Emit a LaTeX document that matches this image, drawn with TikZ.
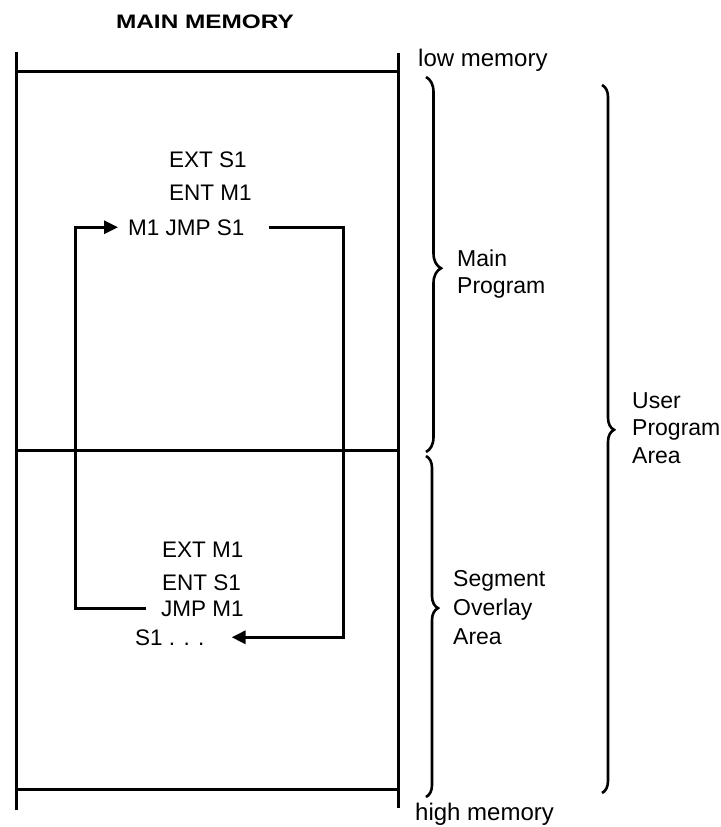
\documentclass[tikz,border=0pt]{standalone}
\usepackage{fontspec}
\setmainfont{Liberation Sans}
\usepackage{graphicx}
\usetikzlibrary{arrows.meta,decorations.pathreplacing}
\begin{document}
\begin{tikzpicture}[x=1pt,y=-1pt,
  boxline/.style={line width=3pt},
  conn/.style={line width=3pt},
  arrowconn/.style={conn,-{Triangle[length=14pt,width=13pt]}},
  codetext/.style={anchor=base west,inner sep=0pt,font=\fontsize{22.5}{26}\selectfont},
  lbl/.style={anchor=base west,inner sep=0pt,align=left},
  memlbl/.style={anchor=base west,inner sep=0pt,font=\fontsize{24}{28}\selectfont},
  bracestyle/.style={line width=2.6pt,decorate}
]
\useasboundingbox (0,0) rectangle (720,827);
% title
\node[anchor=base,inner sep=0pt,font=\bfseries\fontsize{19.5}{22}\selectfont] (title) at (205,28) {\scalebox{1.25}[1]{MAIN MEMORY}};
% memory box
\draw[boxline] (16,52) -- (16,810);
\draw[boxline] (398,53) -- (398,808);
\draw[boxline] (16,71) -- (398,71);
\draw[boxline] (16,450) -- (398,450);
\draw[boxline] (16,789) -- (398,789);
% memory labels
\node[memlbl] (low) at (418,66) {low memory};
\node[memlbl] (high) at (415,820) {high memory};
% code
\node[codetext] (ext1) at (169,167) {EXT S1};
\node[codetext] (ent1) at (169,200) {ENT M1};
\node[codetext] (jmp1) at (128,235) {M1 JMP S1};
\node[codetext] (ext2) at (162,557) {EXT M1};
\node[codetext] (ent2) at (162,590) {ENT S1};
\node[codetext] (jmp2) at (161,616) {JMP M1};
\node[codetext] (s1) at (135,645) {S1 . . .};
% connectors
\draw[arrowconn] ([xshift=-15pt]jmp2.west) -| ([xshift=-53pt]jmp1.west) -- ([xshift=-10pt]jmp1.west);
\draw[arrowconn] ([xshift=24pt]jmp1.east) -- ([xshift=99pt]jmp1.east) |- ([xshift=27pt]s1.east);
% braces
\draw[bracestyle,decoration={brace,amplitude=15pt,aspect=0.51}] (426,77) -- (426,452);
\draw[bracestyle,decoration={brace,amplitude=12pt,aspect=0.446}] (426,456) -- (426,797);
\draw[bracestyle,decoration={brace,amplitude=12pt,aspect=0.487}] (602,85) -- (602,793);
% brace labels (base = baseline of last line)
\node[lbl,font=\fontsize{23}{27}\selectfont] (mainprog) at (457,293) {Main\\Program};
\node[lbl,font=\fontsize{23}{29}\selectfont] (overlay) at (453,644) {Segment\\Overlay\\Area};
\node[lbl,font=\fontsize{23}{27.5}\selectfont] (userarea) at (632,463) {User\\Program\\Area};
\end{tikzpicture}
\end{document}
